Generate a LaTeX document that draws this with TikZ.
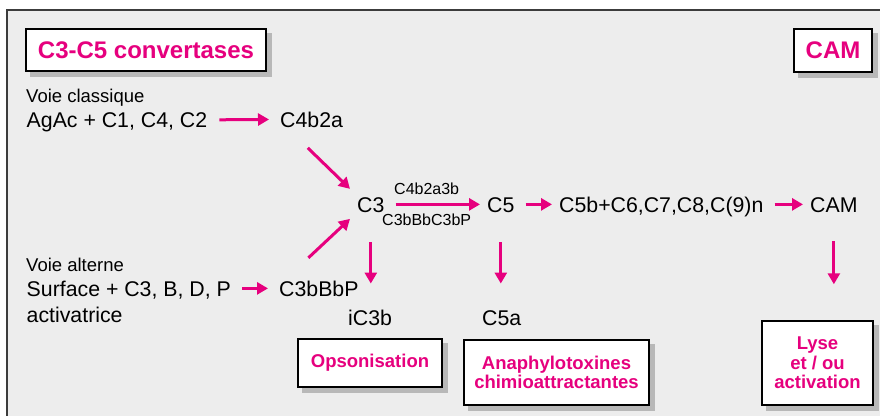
\documentclass[tikz,border=0pt]{standalone}
\usepackage{fontspec}
\setmainfont{Liberation Sans}
\usetikzlibrary{arrows.meta,calc}
\pgfdeclarelayer{framelayer}
\pgfdeclarelayer{shadowlayer}
\pgfsetlayers{framelayer,shadowlayer,main}
\definecolor{mag}{HTML}{E6007E}
\definecolor{bgframe}{HTML}{EDEDED}
\definecolor{framecol}{HTML}{3C3C3C}
\definecolor{shadowcol}{HTML}{B8B8B8}
\tikzset{
  txt/.style={font=\fontsize{21.3}{25}\selectfont, inner sep=0pt, text height=15.25pt, text depth=0pt, anchor=base west},
  smalltxt/.style={font=\fontsize{18.5}{22}\selectfont, inner sep=0pt, anchor=base west},
  subtxt/.style={font=\fontsize{16}{19}\selectfont, inner sep=0pt, anchor=base west},
  arr/.style={draw=mag, line width=3pt, -{Triangle[length=11pt,width=12pt]}},
  titlebox/.style={draw=black, line width=1.5pt, fill=white, text=mag, font=\bfseries\fontsize{24}{28}\selectfont, inner sep=0pt},
  resbox/.style={draw=black, line width=1.5pt, fill=white, text=mag, font=\bfseries\fontsize{18.5}{19.5}\selectfont, inner sep=0pt, align=center},
  shadowfill/.style={fill=shadowcol}
}
\begin{document}
\begin{tikzpicture}[x=1pt,y=-1pt]
\useasboundingbox (0,0) rectangle (880,415);
% frame
\begin{pgfonlayer}{framelayer}
\fill[bgframe] (7,10) rectangle (882,417);
\draw[framecol, line width=2pt] (7,417) -- (7,10) -- (882,10);
\end{pgfonlayer}

% title boxes
\node[titlebox, minimum width=240pt, minimum height=42pt] (title) at (146,50) {C3-C5 convertases};
\node[titlebox, minimum width=78pt, minimum height=43pt] (camtitle) at (833,50.5) {CAM};

% classical pathway
\node[smalltxt] (vc) at (26,102) {Voie classique};
\node[txt] (agac) at (26.5,127.5) {AgAc + C1, C4, C2};
\node[txt] (c4b2a) at (280,127) {C4b2a};

% main row
\node[txt] (c3) at (357,212) {C3};
\node[subtxt] (conv1) at (394,194.3) {C4b2a3b};
\node[subtxt] (conv2) at (382,225.7) {C3bBbC3bP};
\node[txt] (c5) at (487,212) {C5};
\node[txt] (c5b) at (559,212) {C5b+C6,C7,C8,C(9)n};
\node[txt] (cam) at (810,212) {CAM};

% alternative pathway
\node[smalltxt] (va) at (26,271) {Voie alterne};
\node[txt] (surf) at (26.5,296) {Surface + C3, B, D, P};
\node[txt] (activ) at (26.5,322) {activatrice};
\node[txt] (c3bbbp) at (279,296) {C3bBbP};

% products
\node[txt] (ic3b) at (348,325) {iC3b};
\node[txt] (c5a) at (482,325) {C5a};

% result boxes
\node[resbox, minimum width=144pt, minimum height=48pt] (ops) at (370,363) {Opsonisation};
\node[resbox, minimum width=185pt, minimum height=65pt] (ana) at (556.5,372.5) {Anaphylotoxines\\chimioattractantes};
\node[resbox, minimum width=111pt, minimum height=84pt] (lyse) at (817.5,363) {Lyse\\et / ou\\activation};

% shadows
\begin{pgfonlayer}{shadowlayer}
\foreach \b in {title,camtitle,ops,ana,lyse}
  \fill[shadowfill] ($(\b.north west)+(5,5)$) rectangle ($(\b.south east)+(5,5)$);
\end{pgfonlayer}

% arrows
\draw[arr, shorten <=12pt, shorten >=11pt] (agac.east) -- (c4b2a.west);
\draw[arr] ($(c4b2a.south)+(-3.8,20.7)$) -- ($(c3.west)+(-7,-15.5)$);
\draw[arr] ($(c3bbbp.north)+(-10.5,-22.7)$) -- ($(c3.west)+(-7,14.5)$);
\draw[arr, shorten <=11pt, shorten >=11pt] (surf.east) -- (c3bbbp.west);
\draw[arr, shorten <=11pt, shorten >=7pt] (c3.east) -- (c5.west);
\draw[arr, shorten <=11pt, shorten >=7pt] (c5.east) -- (c5b.west);
\draw[arr, shorten <=11pt, shorten >=7pt] (c5b.east) -- (cam.west);
\draw[arr, shorten <=30pt, shorten >=26pt] (c3.south) -- (c3.south |- ic3b.north);
\draw[arr, shorten <=30pt, shorten >=26pt] (c5.south) -- (c5.south |- c5a.north);
\draw[arr, shorten <=29pt, shorten >=36pt] (cam.south) -- (cam.south |- lyse.north);
\end{tikzpicture}
\end{document}
